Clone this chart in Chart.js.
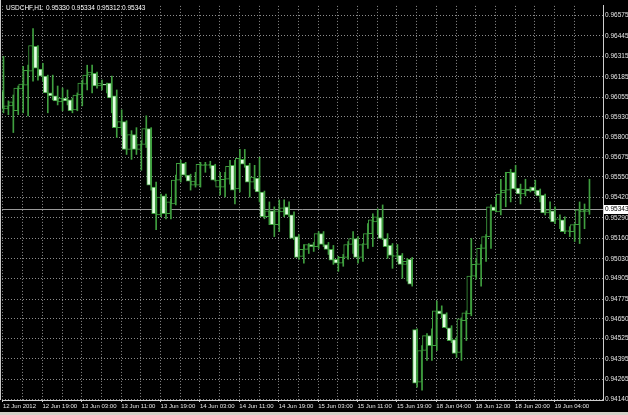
<!DOCTYPE html>
<html>
<head>
<meta charset="utf-8">
<script src="https://cdn.jsdelivr.net/npm/chart.js@4.4.1/dist/chart.umd.min.js"></script>
<style>
  html, body { margin: 0; padding: 0; background: #000; }
  #wrap { width: 628px; height: 415px; }
  canvas { background: #000; }
</style>
</head>
<body>
<div id="wrap"><canvas id="chart" width="628" height="415"></canvas></div>
<script>
// USDCHF H1, 12 Jun 2012 11:00 .. 19 Jun 2012 11:00
const symbolTitle = "USDCHF,H1  0.95330 0.95334 0.95312 0.95343";
const lastPrice = 0.95343;

const xTickLabels = ["12 Jun 2012", "12 Jun 19:00", "13 Jun 03:00", "13 Jun 11:00", "13 Jun 19:00",
  "14 Jun 03:00", "14 Jun 11:00", "14 Jun 19:00", "15 Jun 03:00", "15 Jun 11:00", "15 Jun 19:00",
  "18 Jun 04:00", "18 Jun 12:00", "18 Jun 20:00", "19 Jun 04:00"];

const priceTicks = ["0.96575", "0.96445", "0.96315", "0.96185", "0.96055", "0.95930", "0.95800",
  "0.95675", "0.95550", "0.95420", "0.95290", "0.95160", "0.95030", "0.94905", "0.94775",
  "0.94650", "0.94525", "0.94395", "0.94265", "0.94140"];

const opens = [
  0.96094, 0.95981, 0.96000, 0.95969, 0.96107, 0.96132, 0.96220, 0.96377, 0.96233, 0.96189,
  0.96082, 0.96063, 0.96025, 0.96050, 0.96038, 0.95975, 0.96069, 0.96138, 0.96195, 0.96207,
  0.96126, 0.96138, 0.96145, 0.96063, 0.95862, 0.95900, 0.95724, 0.95818, 0.95724, 0.95755,
  0.95856, 0.95485, 0.95309, 0.95429, 0.95316, 0.95378, 0.95529, 0.95636, 0.95561, 0.95498,
  0.95498, 0.95623, 0.95623, 0.95623, 0.95485, 0.95485, 0.95535, 0.95623, 0.95473, 0.95661,
  0.95623, 0.95517, 0.95542, 0.95454, 0.95297, 0.95335, 0.95247, 0.95328, 0.95360, 0.95309,
  0.95171, 0.95046, 0.95090, 0.95121, 0.95108, 0.95190, 0.95121, 0.95090, 0.95027, 0.95002,
  0.95039, 0.95121, 0.95159, 0.95039, 0.95121, 0.95190, 0.95265, 0.95291, 0.95159, 0.95115,
  0.95046, 0.95052, 0.94995, 0.95027, 0.94581, 0.94248, 0.94449, 0.94543, 0.94480, 0.94700,
  0.94681, 0.94593, 0.94518, 0.94436, 0.94638, 0.94681, 0.94920, 0.94995, 0.95096, 0.95171,
  0.95360, 0.95328, 0.95448, 0.95466, 0.95579, 0.95479, 0.95441, 0.95473, 0.95485, 0.95466,
  0.95435, 0.95322, 0.95335, 0.95278, 0.95278, 0.95203, 0.95203, 0.95247, 0.95328, 0.95330
];
const highs = [
  0.96314, 0.96032, 0.96069, 0.96126, 0.96251, 0.96258, 0.96490, 0.96383, 0.96270, 0.96195,
  0.96195, 0.96126, 0.96113, 0.96101, 0.96050, 0.96082, 0.96163, 0.96258, 0.96258, 0.96214,
  0.96163, 0.96145, 0.96189, 0.96101, 0.95975, 0.95906, 0.95843, 0.95862, 0.95780, 0.95937,
  0.95862, 0.95517, 0.95441, 0.95441, 0.95410, 0.95561, 0.95655, 0.95642, 0.95567, 0.95579,
  0.95642, 0.95642, 0.95649, 0.95630, 0.95579, 0.95579, 0.95655, 0.95655, 0.95724, 0.95724,
  0.95636, 0.95623, 0.95674, 0.95460, 0.95391, 0.95360, 0.95404, 0.95404, 0.95391, 0.95328,
  0.95184, 0.95121, 0.95127, 0.95134, 0.95203, 0.95203, 0.95134, 0.95115, 0.95046, 0.95058,
  0.95140, 0.95203, 0.95171, 0.95127, 0.95253, 0.95316, 0.95347, 0.95372, 0.95190, 0.95127,
  0.95121, 0.95064, 0.95033, 0.95039, 0.94587, 0.94480, 0.94556, 0.94587, 0.94763, 0.94732,
  0.94688, 0.94606, 0.94531, 0.94656, 0.94700, 0.95159, 0.95033, 0.95121, 0.95184, 0.95372,
  0.95422, 0.95535, 0.95579, 0.95598, 0.95623, 0.95504, 0.95535, 0.95485, 0.95529, 0.95473,
  0.95441, 0.95391, 0.95360, 0.95309, 0.95297, 0.95234, 0.95253, 0.95391, 0.95378, 0.95535
];
const lows = [
  0.95956, 0.95944, 0.95831, 0.95944, 0.95956, 0.95937, 0.96157, 0.96163, 0.96157, 0.95956,
  0.96038, 0.96006, 0.95969, 0.96006, 0.95956, 0.95969, 0.96000, 0.96101, 0.96082, 0.96113,
  0.96101, 0.96082, 0.95956, 0.95799, 0.95818, 0.95692, 0.95661, 0.95692, 0.95592, 0.95736,
  0.95466, 0.95215, 0.95297, 0.95284, 0.95284, 0.95372, 0.95517, 0.95548, 0.95466, 0.95485,
  0.95485, 0.95579, 0.95605, 0.95523, 0.95435, 0.95422, 0.95504, 0.95378, 0.95454, 0.95611,
  0.95422, 0.95473, 0.95391, 0.95284, 0.95247, 0.95171, 0.95203, 0.95297, 0.95297, 0.95152,
  0.95027, 0.95002, 0.95064, 0.95077, 0.95096, 0.95108, 0.95058, 0.94995, 0.94951, 0.94983,
  0.95027, 0.95064, 0.95002, 0.95014, 0.95096, 0.95108, 0.95190, 0.95152, 0.95033, 0.94970,
  0.95014, 0.94907, 0.94889, 0.94857, 0.94217, 0.94198, 0.94386, 0.94386, 0.94449, 0.94656,
  0.94587, 0.94499, 0.94405, 0.94386, 0.94512, 0.94669, 0.94901, 0.94857, 0.95014, 0.95096,
  0.95328, 0.95309, 0.95360, 0.95391, 0.95466, 0.95378, 0.95429, 0.95454, 0.95441, 0.95391,
  0.95309, 0.95284, 0.95253, 0.95221, 0.95190, 0.95171, 0.95140, 0.95127, 0.95221, 0.95312
];
const closes = [
  0.95981, 0.96000, 0.96025, 0.96113, 0.96138, 0.96226, 0.96383, 0.96239, 0.96189, 0.96082,
  0.96063, 0.96032, 0.96050, 0.96032, 0.95969, 0.96069, 0.96145, 0.96195, 0.96214, 0.96126,
  0.96145, 0.96132, 0.96050, 0.95862, 0.95900, 0.95724, 0.95818, 0.95724, 0.95755, 0.95856,
  0.95498, 0.95316, 0.95422, 0.95316, 0.95391, 0.95529, 0.95636, 0.95561, 0.95523, 0.95523,
  0.95630, 0.95630, 0.95624, 0.95529, 0.95529, 0.95535, 0.95617, 0.95466, 0.95667, 0.95630,
  0.95517, 0.95548, 0.95454, 0.95297, 0.95335, 0.95247, 0.95335, 0.95353, 0.95309, 0.95159,
  0.95039, 0.95090, 0.95121, 0.95108, 0.95190, 0.95121, 0.95090, 0.95021, 0.95002, 0.95039,
  0.95121, 0.95159, 0.95039, 0.95121, 0.95190, 0.95278, 0.95297, 0.95159, 0.95108, 0.95052,
  0.95052, 0.94995, 0.95014, 0.94870, 0.94242, 0.94449, 0.94543, 0.94480, 0.94700, 0.94681,
  0.94593, 0.94512, 0.94430, 0.94650, 0.94688, 0.94920, 0.94995, 0.95096, 0.95171, 0.95360,
  0.95335, 0.95441, 0.95466, 0.95579, 0.95473, 0.95441, 0.95473, 0.95460, 0.95460, 0.95429,
  0.95322, 0.95341, 0.95265, 0.95284, 0.95203, 0.95209, 0.95247, 0.95341, 0.95341, 0.95343
];

const barGreen = "#3f9f3f";
const bearFill = "#e4ffe4";
const gridGray = "#8c8c8c";
const textGray = "#e6e6e6";
const timeFont = { family: "Liberation Sans", size: 6 };
const priceFont = { family: "Liberation Sans", size: 6.5 };

const bodies = opens.map((o, i) => ({ x: i, y: [o, closes[i]] }));
const wicks = lows.map((l, i) => ({ x: i, y: [l, highs[i]] }));

const mtDecor = {
  id: "mtDecor",
  beforeDatasetsDraw(chart) {
    const { ctx, chartArea: a, scales: { y } } = chart;
    const py = Math.round(y.getPixelForValue(lastPrice)) + 0.5;
    ctx.save();
    ctx.strokeStyle = "#9a9a9a";
    ctx.lineWidth = 1;
    ctx.beginPath();
    ctx.moveTo(a.left, py);
    ctx.lineTo(a.right, py);
    ctx.stroke();
    ctx.restore();
  },
  afterDraw(chart) {
    const { ctx, chartArea: a, scales: { y } } = chart;
    ctx.save();
    ctx.font = '6.5px "Liberation Sans"';
    ctx.textBaseline = "middle";
    ctx.fillStyle = "#ffffff";
    ctx.fillText(symbolTitle, 6, 8);

    // current price tag on the axis
    const py = Math.round(y.getPixelForValue(lastPrice));
    ctx.fillStyle = "#ffffff";
    ctx.fillRect(a.right + 1, py - 4, 24, 9);
    ctx.fillStyle = "#000000";
    ctx.fillText(lastPrice.toFixed(5), a.right + 2, py + 0.5);

    // window frame
    ctx.strokeStyle = "#c8c8c8";
    ctx.lineWidth = 1;
    ctx.beginPath();
    ctx.moveTo(0.5, 0);
    ctx.lineTo(0.5, a.bottom);
    ctx.stroke();
    ctx.fillStyle = "#d4d0c8";
    ctx.fillRect(0, 412, 628, 3);
    ctx.restore();
  }
};

new Chart(document.getElementById("chart"), {
  type: "bar",
  data: {
    datasets: [
      {
        label: "body",
        data: bodies,
        barThickness: 4,
        minBarLength: 1,
        borderWidth: 1,
        borderSkipped: false,
        borderColor: barGreen,
        backgroundColor: (c) => (closes[c.dataIndex] < opens[c.dataIndex] ? bearFill : "#000000"),
      },
      {
        label: "wick",
        data: wicks,
        barThickness: 1,
        backgroundColor: barGreen,
        borderWidth: 0,
      },
    ],
  },
  options: {
    responsive: false,
    animation: false,
    layout: { padding: { left: 2, top: 2, right: 0, bottom: 0 } },
    plugins: {
      legend: { display: false },
      tooltip: { enabled: false },
    },
    scales: {
      x: {
        type: "linear",
        offset: false,
        min: -0.2,
        max: 121.85,
        afterBuildTicks: (s) => {
          const t = [];
          for (let v = 0; v <= 120; v += 4) t.push({ value: v });
          s.ticks = t;
        },
        afterFit: (s) => { s.height = 15; },
        ticks: {
          autoSkip: false,
          maxRotation: 0,
          align: "start",
          padding: 1,
          color: textGray,
          font: timeFont,
          callback: (v) => (v % 8 === 0 ? xTickLabels[v / 8] : ""),
        },
        grid: {
          offset: false,
          color: gridGray,
          tickColor: (c) => (c.tick && c.tick.value % 8 === 0 ? "#cfcfcf" : "transparent"),
          tickLength: 2,
          tickBorderDash: [],
        },
        border: { color: "#cfcfcf", dash: [1, 2] },
      },
      y: {
        position: "right",
        min: 0.94135,
        max: 0.96634,
        afterBuildTicks: (s) => {
          s.ticks = priceTicks.map((p) => ({ value: parseFloat(p) }));
        },
        afterFit: (s) => { s.width = 25; },
        ticks: {
          autoSkip: false,
          padding: 2,
          color: textGray,
          font: priceFont,
          callback: (v, i) => priceTicks[i],
        },
        grid: {
          color: gridGray,
          drawTicks: false,
        },
        border: { color: "#cfcfcf", dash: [1, 2] },
      },
    },
  },
  plugins: [mtDecor],
});
</script>
</body>
</html>
